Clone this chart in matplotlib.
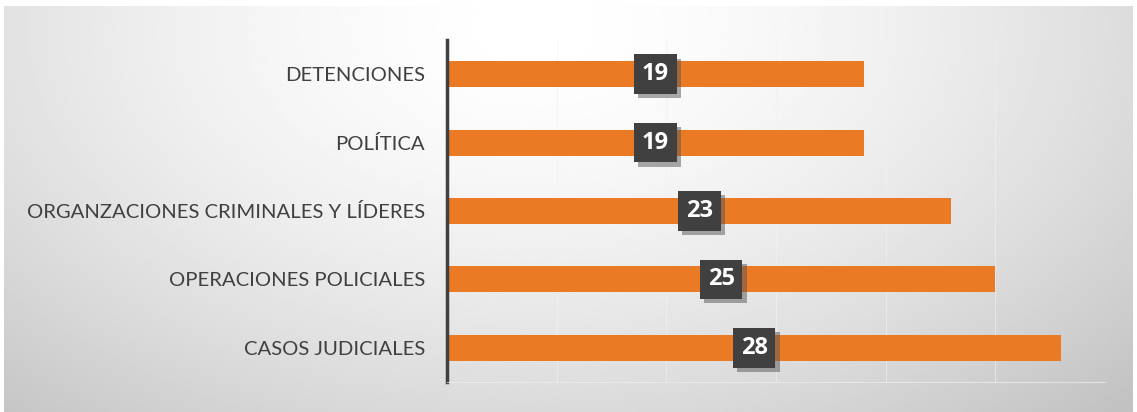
import numpy as np
import matplotlib
matplotlib.use("Agg")
from matplotlib import pyplot as plt
from matplotlib import patheffects as pe

categories = ["CASOS JUDICIALES", "OPERACIONES POLICIALES",
              "ORGANZACIONES CRIMINALES Y LÍDERES", "POLÍTICA", "DETENCIONES"]
values = [28, 25, 23, 19, 19]

plt.rcParams['font.family'] = ['Lato', 'DejaVu Sans']

W, H = 1137, 412
fig = plt.figure(figsize=(W / 100, H / 100), dpi=100)
fig.patch.set_facecolor("white")

# background gradient (light centre, grey edges)
bg = fig.add_axes([4 / W, 0, (W - 8) / W, (H - 6) / H])
yy, xx = np.mgrid[0:1:200j, 0:1:600j]
d = np.sqrt(((xx - 0.47) / 0.75) ** 2 + ((yy - 0.05) / 1.3) ** 2)
d = np.clip(d, 0, 1)
bg.imshow(1 - 0.24 * d ** 1.6, cmap="gray", vmin=0, vmax=1, aspect="auto",
          extent=[0, 1, 0, 1], origin="upper")
bg.set_axis_off()

ax = fig.add_axes([447 / W, (H - 382) / H, (1105 - 447) / W, (382 - 40) / H])
ax.patch.set_alpha(0)
y = np.arange(len(categories))
ax.barh(y, values, height=0.38, color="#EB7A25", zorder=2)
ax.set_xlim(0, 30)
ax.set_ylim(-0.5, len(categories) - 0.5)
ax.set_xticks(np.arange(5, 31, 5))
ax.grid(axis="x", color="#f2f2f2", linewidth=0.8, alpha=0.6, zorder=0)
ax.tick_params(axis="x", length=0, labelbottom=False)
ax.set_yticks(y)
ax.set_yticklabels(categories, fontsize=14.6, color="#404040")
ax.tick_params(axis="y", length=0, pad=16)
for s in ["top", "right"]:
    ax.spines[s].set_visible(False)
ax.spines["bottom"].set_color("#eeeeee")
ax.spines["bottom"].set_alpha(0.7)
ax.spines["left"].set_color("#404040")
ax.spines["left"].set_linewidth(2.5)

for yi, v in zip(y, values):
    t = ax.text(v / 2, yi, str(v), ha="center", va="center", fontsize=17,
                family=["Open Sans", "DejaVu Sans"],
                fontweight="bold", color="white", zorder=4,
                bbox=dict(boxstyle="square,pad=0.33", fc="#404040", ec="none"))
    t.get_bbox_patch().set_path_effects(
        [pe.SimplePatchShadow(offset=(3, -3), shadow_rgbFace="#555555", alpha=0.5),
         pe.Normal()])

fig.savefig("out.png", dpi=100)
